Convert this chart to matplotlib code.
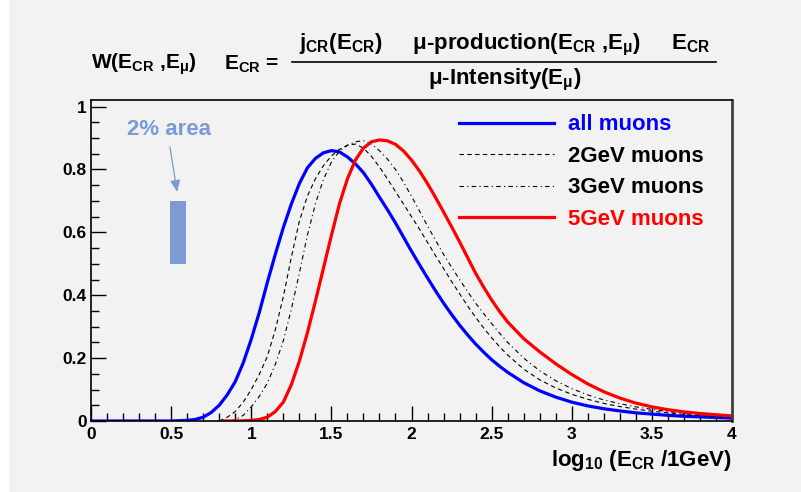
import numpy as np
import matplotlib
matplotlib.use("Agg")
import matplotlib.pyplot as plt
from matplotlib.patches import Rectangle
from matplotlib.lines import Line2D
from matplotlib.ticker import MultipleLocator

plt.rcParams['font.family'] = ['Liberation Sans', 'DejaVu Sans']
plt.rcParams['font.weight'] = 'bold'
plt.rcParams['mathtext.fontset'] = 'custom'
plt.rcParams['mathtext.rm'] = 'Liberation Sans:bold'
plt.rcParams['mathtext.it'] = 'Liberation Sans:bold'
plt.rcParams['mathtext.bf'] = 'Liberation Sans:bold'

# log10(E_CR / 1GeV) and W values
x_all = [0.0, 0.1, 0.2, 0.3, 0.4, 0.5, 0.6, 0.65, 0.7, 0.75, 0.8, 0.85, 0.9,
         0.95, 1.0, 1.05, 1.1, 1.15, 1.2, 1.25, 1.3, 1.35, 1.4, 1.45, 1.5, 1.55,
         1.6, 1.65, 1.7, 1.75, 1.8, 1.85, 1.9, 1.95, 2.0, 2.05, 2.1, 2.15, 2.2,
         2.25, 2.3, 2.35, 2.4, 2.45, 2.5, 2.55, 2.6, 2.7, 2.8, 2.9, 3.0, 3.1,
         3.2, 3.3, 3.4, 3.5, 3.6, 3.7, 3.8, 3.9, 4.0]
w_all = [0, 0, 0, 0, 0, 0, 0.002, 0.005, 0.012, 0.027, 0.05, 0.083, 0.125,
         0.185, 0.26, 0.345, 0.44, 0.53, 0.615, 0.69, 0.755, 0.805, 0.835, 0.853,
         0.86, 0.856, 0.84, 0.818, 0.79, 0.753, 0.712, 0.672, 0.63, 0.585, 0.54,
         0.497, 0.455, 0.414, 0.375, 0.339, 0.305, 0.274, 0.245, 0.219, 0.195,
         0.174, 0.155, 0.122, 0.096, 0.076, 0.06, 0.048, 0.039, 0.032, 0.026,
         0.022, 0.018, 0.015, 0.013, 0.011, 0.009]

x_2gev = [0.8, 0.85, 0.9, 0.95, 1.0, 1.05, 1.1, 1.15, 1.2, 1.25, 1.3, 1.35,
          1.4, 1.45, 1.5, 1.55, 1.6, 1.65, 1.7, 1.75, 1.8, 1.85, 1.9, 1.95, 2.0,
          2.05, 2.1, 2.15, 2.2, 2.25, 2.3, 2.35, 2.4, 2.45, 2.5, 2.55, 2.6, 2.7,
          2.8, 2.9, 3.0, 3.1, 3.2, 3.3, 3.4, 3.5, 3.6, 3.7, 3.8, 3.9, 4.0]
w_2gev = [0, 0.012, 0.03, 0.06, 0.1, 0.148, 0.205, 0.29, 0.395, 0.52, 0.635,
          0.715, 0.77, 0.812, 0.843, 0.864, 0.877, 0.881, 0.868, 0.842, 0.808,
          0.77, 0.73, 0.69, 0.65, 0.61, 0.568, 0.526, 0.485, 0.444, 0.405, 0.366,
          0.33, 0.296, 0.265, 0.236, 0.21, 0.165, 0.131, 0.105, 0.085, 0.069,
          0.056, 0.046, 0.038, 0.031, 0.026, 0.021, 0.017, 0.014, 0.012]

x_3gev = [0.87, 0.9, 0.95, 1.0, 1.05, 1.1, 1.15, 1.2, 1.25, 1.3, 1.35, 1.4,
          1.45, 1.5, 1.55, 1.6, 1.65, 1.7, 1.75, 1.8, 1.85, 1.9, 1.95, 2.0,
          2.05, 2.1, 2.15, 2.2, 2.25, 2.3, 2.35, 2.4, 2.45, 2.5, 2.55, 2.6, 2.7,
          2.8, 2.9, 3.0, 3.1, 3.2, 3.3, 3.4, 3.5, 3.6, 3.7, 3.8, 3.9, 4.0]
w_3gev = [0, 0.004, 0.018, 0.045, 0.078, 0.12, 0.18, 0.255, 0.355, 0.47, 0.59,
          0.69, 0.768, 0.823, 0.858, 0.877, 0.888, 0.892, 0.881, 0.86, 0.833,
          0.8, 0.76, 0.715, 0.668, 0.62, 0.575, 0.53, 0.489, 0.45, 0.412, 0.375,
          0.342, 0.31, 0.279, 0.25, 0.2, 0.16, 0.128, 0.103, 0.083, 0.067, 0.055,
          0.045, 0.037, 0.03, 0.025, 0.021, 0.017, 0.014]

x_5gev = [0.83, 0.9, 0.95, 1.0, 1.05, 1.1, 1.15, 1.2, 1.25, 1.3, 1.35, 1.4,
          1.45, 1.5, 1.55, 1.6, 1.65, 1.7, 1.75, 1.8, 1.85, 1.9, 1.95, 2.0,
          2.05, 2.1, 2.15, 2.2, 2.25, 2.3, 2.35, 2.4, 2.45, 2.5, 2.55, 2.6, 2.7,
          2.8, 2.9, 3.0, 3.1, 3.2, 3.3, 3.4, 3.5, 3.6, 3.7, 3.8, 3.9, 4.0]
w_5gev = [0, 0, 0.0005, 0.002, 0.005, 0.012, 0.03, 0.06, 0.115, 0.19, 0.28,
          0.38, 0.485, 0.59, 0.69, 0.77, 0.83, 0.868, 0.888, 0.894, 0.891, 0.88,
          0.859, 0.83, 0.795, 0.755, 0.711, 0.665, 0.618, 0.57, 0.52, 0.47,
          0.426, 0.385, 0.348, 0.315, 0.262, 0.22, 0.182, 0.148, 0.118, 0.093,
          0.073, 0.057, 0.045, 0.036, 0.029, 0.024, 0.02, 0.016]

labels = ['all muons', '2GeV muons', '3GeV muons', '5GeV muons']

# the "2% area" bar
area_x = [0.49, 0.59]
area_y = [0.5, 0.7]

bg = '#f2f2f2'
area_col = '#7b9bd2'

fig = plt.figure(figsize=(8.01, 4.92), dpi=100, facecolor=bg)
fig.patches.append(Rectangle((0, 0), 9 / 801, 1, transform=fig.transFigure,
                             facecolor='white', edgecolor='none'))
ax = fig.add_axes([91 / 801, 71 / 492, 641 / 801, 321 / 492], facecolor=bg)

ax.plot(x_all, w_all, color='#0000ff', lw=2.3, label=labels[0])
ax.plot(x_2gev, w_2gev, color='black', lw=0.8, dashes=(4, 3), label=labels[1])
ax.plot(x_3gev, w_3gev, color='black', lw=0.8, dashes=(4, 3, 1, 3), label=labels[2])
ax.plot(x_5gev, w_5gev, color='#ff0000', lw=2.3, label=labels[3])

ax.add_patch(Rectangle((area_x[0], area_y[0]), area_x[1] - area_x[0],
                       area_y[1] - area_y[0], facecolor=area_col, edgecolor='none'))
ax.annotate('', xy=(0.54, 0.72), xytext=(0.49, 0.88),
            arrowprops=dict(arrowstyle='-|>,head_length=0.7,head_width=0.3',
                            color=area_col, lw=0.9))
ax.text(0.485, 0.926, '2% area', color=area_col, fontsize=16, fontweight='bold',
        ha='center', va='center')

ax.set_xlim(0, 4)
ax.set_ylim(0, 1.021)
ax.xaxis.set_minor_locator(MultipleLocator(0.1))
ax.yaxis.set_minor_locator(MultipleLocator(0.05))
ax.set_xticks([0, 0.5, 1, 1.5, 2, 2.5, 3, 3.5, 4])
ax.set_xticklabels(['0', '0.5', '1', '1.5', '2', '2.5', '3', '3.5', '4'])
ax.set_yticks([0, 0.2, 0.4, 0.6, 0.8, 1.0])
ax.set_yticklabels(['0', '0.2', '0.4', '0.6', '0.8', '1'])
ax.tick_params(direction='in', which='major', length=11, width=1, labelsize=12.5, pad=4)
ax.tick_params(direction='in', which='minor', length=6, width=1)
ax.tick_params(axis='y', pad=3)
for lab in ax.get_xticklabels() + ax.get_yticklabels():
    lab.set_fontweight('bold')
for s in ax.spines.values():
    s.set_linewidth(1.2)
ax.spines['right'].set_color('#404040')
ax.spines['right'].set_linewidth(2)

ax.set_xlabel(r'log$_{10}$ (E$_{CR}$ /1GeV)', fontsize=16, fontweight='bold')
ax.xaxis.set_label_coords(1.0, -0.085)
ax.xaxis.label.set_ha('right')

leg = ax.legend(loc='upper left', bbox_to_anchor=(0.574, 0.955), frameon=False,
                fontsize=16, handlelength=4.3, handletextpad=0.59,
                labelspacing=0.47, borderpad=0, borderaxespad=0)
for txt, col in zip(leg.get_texts(), ['#0000ff', 'black', 'black', '#ff0000']):
    txt.set_color(col)
    txt.set_fontweight('bold')

# title formula
fig.text(91 / 801, 1 - 64 / 492, r'W(E$_{CR}$ ,E$_{\mu}$)', fontsize=15,
         fontweight='bold', va='center', ha='left')
fig.text(224 / 801, 1 - 64 / 492, r'E$_{CR}$ =', fontsize=15,
         fontweight='bold', va='center', ha='left')
fig.text(505 / 801, 1 - 45 / 492,
         r'j$_{CR}$(E$_{CR}$)     $\mu$-production(E$_{CR}$ ,E$_{\mu}$)     E$_{CR}$',
         fontsize=16, fontweight='bold', va='center', ha='center')
fig.text(505 / 801, 1 - 80 / 492, r'$\mu$-Intensity(E$_{\mu}$)', fontsize=16,
         fontweight='bold', va='center', ha='center')
fig.lines.append(Line2D([292 / 801, 716 / 801], [1 - 62 / 492, 1 - 62 / 492],
                        transform=fig.transFigure, color='black', lw=1.2))

fig.savefig('out.png', dpi=100, facecolor=bg)
